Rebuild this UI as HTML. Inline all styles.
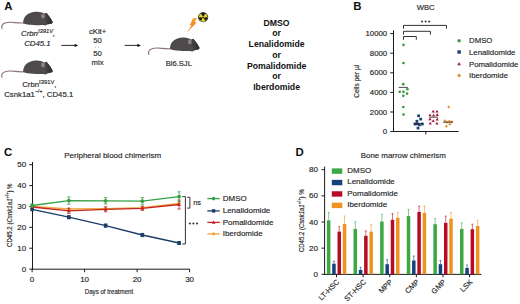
<!DOCTYPE html>
<html><head><meta charset="utf-8"><style>
html,body{margin:0;padding:0;background:#fff;}
body{width:520px;height:304px;overflow:hidden;}
svg{display:block;}
text{font-family:"Liberation Sans",sans-serif;}
text:not([font-weight="bold"]){stroke:#333;stroke-width:0.16px;}
</style></head><body>
<svg width="520" height="304" viewBox="0 0 520 304">
<rect width="520" height="304" fill="#fff"/>
<text x="4.2" y="9.9" font-size="11.4" text-anchor="start" font-weight="bold" font-style="normal" fill="#111" >A</text>
<text x="353.3" y="9.9" font-size="11.4" text-anchor="start" font-weight="bold" font-style="normal" fill="#111" >B</text>
<text x="3.9" y="155.9" font-size="11.4" text-anchor="start" font-weight="bold" font-style="normal" fill="#111" >C</text>
<text x="295.6" y="155.9" font-size="11.4" text-anchor="start" font-weight="bold" font-style="normal" fill="#111" >D</text>
<defs><linearGradient id="hg" x1="44" y1="0" x2="53" y2="0" gradientUnits="userSpaceOnUse"><stop offset="0" stop-color="#4d4849"/><stop offset="0.45" stop-color="#3c393c"/><stop offset="1" stop-color="#2c2b30"/></linearGradient></defs>
<g id="mouse">
<path d="M23.8,23.0 C19,23.4 14,22.3 10.5,22.2 C7,22.1 4.5,22.7 3,24.0 C1.7,25.2 1.5,27 1.9,28.6" fill="none" stroke="#8f7474" stroke-width="1.1" stroke-linecap="round"/>
<path d="M23.2,23.2 C23.0,20.6 23.9,17.4 26.0,15.4 C28.0,13.5 30.8,12.3 33.5,11.9 C36.5,11.5 39.5,11.6 42,12.6 L44.4,13.6 L45.9,13.1 C46.6,12.9 47.2,13.5 47.5,14.3 C49.3,16.5 51.8,19.8 52.7,22 C52.9,23.2 51.5,24 50,24 L47.5,24.6 L45.5,25.6 L43,25.1 C40,25.3 36,25.2 33,24.9 C29,24.8 25.3,24.4 23.2,23.2 Z" fill="#4e494a"/>
<path d="M45.2,13.3 C46.4,12.8 47.2,13.4 47.5,14.3 C49.3,16.5 51.8,19.8 52.7,22 C52.9,23.2 51.5,24 50,24 L46.5,23.9 C44.8,20.5 44.6,16.5 45.2,13.3 Z" fill="url(#hg)"/>
<ellipse cx="43.0" cy="16.2" rx="1.9" ry="2.4" fill="#8f8283"/>
</g>
<use href="#mouse" transform="translate(0,48.8)"/>
<use href="#mouse" transform="translate(146.8,25.8)"/>
<text x="21" y="35.8" font-size="7.8" font-style="italic" fill="#222">Crbn<tspan font-size="5.8" dy="-2.9">I391V</tspan><tspan dy="2.9">,</tspan></text>
<text x="24.2" y="45.9" font-size="7.8" text-anchor="start" font-weight="normal" font-style="italic" fill="#222" >CD45.1</text>
<text x="22.2" y="87.3" font-size="7.8" fill="#222">Crbn<tspan font-size="5.8" dy="-2.9">I391V</tspan><tspan dy="2.9">,</tspan></text>
<text x="4.2" y="96.6" font-size="7.8" fill="#222">Csnk1a1<tspan font-size="5.2" dy="-3.4">−/+</tspan><tspan dy="3.4">, CD45.1</tspan></text>
<line x1="61.3" y1="45.4" x2="75.2" y2="45.4" stroke="#111" stroke-width="0.9"/>
<path d="M78.2,45.4 L74.60000000000001,43.8 L74.60000000000001,47.0 Z" fill="#111"/>
<line x1="124.7" y1="45.4" x2="138" y2="45.4" stroke="#111" stroke-width="0.9"/>
<path d="M141,45.4 L137.4,43.8 L137.4,47.0 Z" fill="#111"/>
<text x="97.6" y="34.0" font-size="7.7" text-anchor="middle" font-weight="normal" font-style="normal" fill="#222" >cKit+</text>
<text x="97.6" y="43.1" font-size="7.7" text-anchor="middle" font-weight="normal" font-style="normal" fill="#222" >50</text>
<circle cx="95.6" cy="47.1" r="0.45" fill="#444"/><circle cx="98.6" cy="47.1" r="0.45" fill="#444"/>
<text x="97.6" y="55.9" font-size="7.7" text-anchor="middle" font-weight="normal" font-style="normal" fill="#222" >50</text>
<text x="97.6" y="64.8" font-size="7.7" text-anchor="middle" font-weight="normal" font-style="normal" fill="#222" >mix</text>
<text x="178.8" y="65.7" font-size="7.6" text-anchor="middle" font-weight="normal" font-style="normal" fill="#222" >Bl6.SJL</text>
<defs><linearGradient id="lg" x1="0" y1="0" x2="0" y2="1"><stop offset="0" stop-color="#f6a524"/><stop offset="1" stop-color="#ec6a1c"/></linearGradient></defs>
<path d="M193.1,17.9 L197.2,18.3 L194.5,22.1 L196.7,22.5 L186.5,32.8 L191.8,25.2 L189.7,25.4 Z" fill="url(#lg)"/>
<g transform="translate(203.15,17.3)"><circle r="5.05" fill="#1e1c12"/><circle r="4.35" fill="#e6d935"/><path d="M0,0 L-2.2,-3.8 A4.4,4.4 0 0 1 2.2,-3.8 Z" fill="#1e1c12" transform="rotate(0)"/><path d="M0,0 L-2.2,-3.8 A4.4,4.4 0 0 1 2.2,-3.8 Z" fill="#1e1c12" transform="rotate(120)"/><path d="M0,0 L-2.2,-3.8 A4.4,4.4 0 0 1 2.2,-3.8 Z" fill="#1e1c12" transform="rotate(240)"/><circle r="1.35" fill="#e6d935"/><circle r="0.85" fill="#1e1c12"/></g>
<text x="276.6" y="25.6" font-size="8.7" text-anchor="middle" font-weight="bold" font-style="normal" fill="#111" >DMSO</text>
<text x="276.6" y="36.33" font-size="8.7" text-anchor="middle" font-weight="bold" font-style="normal" fill="#111" >or</text>
<text x="276.6" y="47.06" font-size="8.7" text-anchor="middle" font-weight="bold" font-style="normal" fill="#111" >Lenalidomide</text>
<text x="276.6" y="57.79" font-size="8.7" text-anchor="middle" font-weight="bold" font-style="normal" fill="#111" >or</text>
<text x="276.6" y="68.52" font-size="8.7" text-anchor="middle" font-weight="bold" font-style="normal" fill="#111" >Pomalidomide</text>
<text x="276.6" y="79.25" font-size="8.7" text-anchor="middle" font-weight="bold" font-style="normal" fill="#111" >or</text>
<text x="276.6" y="89.98" font-size="8.7" text-anchor="middle" font-weight="bold" font-style="normal" fill="#111" >Iberdomide</text>
<text x="425.7" y="10.2" font-size="7.7" text-anchor="middle" font-weight="normal" font-style="normal" fill="#222" >WBC</text>
<line x1="393.5" y1="30.3" x2="393.5" y2="132.0" stroke="#1a1a1a" stroke-width="1.0"/>
<line x1="393.0" y1="131.5" x2="458.6" y2="131.5" stroke="#1a1a1a" stroke-width="1.0"/>
<line x1="425.8" y1="131.5" x2="425.8" y2="134.4" stroke="#1a1a1a" stroke-width="1.0"/>
<line x1="390.2" y1="131.60" x2="393.5" y2="131.60" stroke="#1a1a1a" stroke-width="1.0"/>
<text x="387.2" y="134.2" font-size="7.8" text-anchor="end" font-weight="normal" font-style="normal" fill="#222" >0</text>
<line x1="390.2" y1="112.00" x2="393.5" y2="112.00" stroke="#1a1a1a" stroke-width="1.0"/>
<text x="387.2" y="114.6" font-size="7.8" text-anchor="end" font-weight="normal" font-style="normal" fill="#222" >2000</text>
<line x1="390.2" y1="92.40" x2="393.5" y2="92.40" stroke="#1a1a1a" stroke-width="1.0"/>
<text x="387.2" y="95.0" font-size="7.8" text-anchor="end" font-weight="normal" font-style="normal" fill="#222" >4000</text>
<line x1="390.2" y1="72.80" x2="393.5" y2="72.80" stroke="#1a1a1a" stroke-width="1.0"/>
<text x="387.2" y="75.4" font-size="7.8" text-anchor="end" font-weight="normal" font-style="normal" fill="#222" >6000</text>
<line x1="390.2" y1="53.20" x2="393.5" y2="53.20" stroke="#1a1a1a" stroke-width="1.0"/>
<text x="387.2" y="55.8" font-size="7.8" text-anchor="end" font-weight="normal" font-style="normal" fill="#222" >8000</text>
<line x1="390.2" y1="33.60" x2="393.5" y2="33.60" stroke="#1a1a1a" stroke-width="1.0"/>
<text x="387.2" y="36.2" font-size="7.8" text-anchor="end" font-weight="normal" font-style="normal" fill="#222" >10000</text>
<text transform="translate(358.6,81.3) rotate(-90)" font-size="6.6" text-anchor="middle" fill="#222">Cells per µl</text>
<path d="M403.5,28.7 L403.5,25.4 L446.5,25.4 L446.5,28.7" fill="none" stroke="#333" stroke-width="1.0"/>
<path d="M403.5,34.6 L403.5,31.3 L430.4,31.3 L430.4,34.6" fill="none" stroke="#333" stroke-width="1.0"/>
<path d="M403.5,39.8 L403.5,36.5 L416.3,36.5 L416.3,39.8" fill="none" stroke="#333" stroke-width="1.0"/>
<g fill="#333"><circle cx="422" cy="21.6" r="1.0"/><circle cx="425.6" cy="21.6" r="1.0"/><circle cx="429.2" cy="21.6" r="1.0"/></g>
<circle cx="403.5" cy="44.9" r="1.35" fill="#3f9a48"/>
<circle cx="403.5" cy="63" r="1.35" fill="#3f9a48"/>
<circle cx="403.3" cy="84.2" r="1.35" fill="#3f9a48"/>
<circle cx="407.4" cy="89.2" r="1.35" fill="#3f9a48"/>
<circle cx="399.7" cy="91.8" r="1.35" fill="#3f9a48"/>
<circle cx="403.4" cy="91.8" r="1.35" fill="#3f9a48"/>
<circle cx="407" cy="93.6" r="1.35" fill="#3f9a48"/>
<circle cx="403.3" cy="95.8" r="1.35" fill="#3f9a48"/>
<circle cx="403.3" cy="107" r="1.35" fill="#3f9a48"/>
<circle cx="403.5" cy="114.6" r="1.35" fill="#3f9a48"/>
<line x1="398.7" y1="87.4" x2="407.8" y2="87.4" stroke="#222" stroke-width="0.8"/>
<rect x="417.25" y="114.45" width="2.7" height="2.7" fill="#1c3f72"/>
<rect x="419.35" y="117.75" width="2.7" height="2.7" fill="#1c3f72"/>
<rect x="415.55" y="119.85" width="2.7" height="2.7" fill="#1c3f72"/>
<rect x="413.75" y="122.75" width="2.7" height="2.7" fill="#1c3f72"/>
<rect x="415.85" y="122.45" width="2.7" height="2.7" fill="#1c3f72"/>
<rect x="418.05" y="123.55" width="2.7" height="2.7" fill="#1c3f72"/>
<rect x="420.95" y="122.75" width="2.7" height="2.7" fill="#1c3f72"/>
<rect x="416.65" y="126.75" width="2.7" height="2.7" fill="#1c3f72"/>
<line x1="413.5" y1="123.4" x2="423.5" y2="123.4" stroke="#222" stroke-width="0.8"/>
<path d="M433.20,109.70 L434.80,112.60 L431.60,112.60 Z" fill="#a5173b"/>
<path d="M437.00,109.70 L438.60,112.60 L435.40,112.60 Z" fill="#a5173b"/>
<path d="M430.00,113.40 L431.60,116.30 L428.40,116.30 Z" fill="#a5173b"/>
<path d="M433.60,113.70 L435.20,116.60 L432.00,116.60 Z" fill="#a5173b"/>
<path d="M437.20,113.00 L438.80,115.90 L435.60,115.90 Z" fill="#a5173b"/>
<path d="M430.00,117.30 L431.60,120.20 L428.40,120.20 Z" fill="#a5173b"/>
<path d="M437.20,117.70 L438.80,120.60 L435.60,120.60 Z" fill="#a5173b"/>
<path d="M433.20,119.20 L434.80,122.10 L431.60,122.10 Z" fill="#a5173b"/>
<path d="M430.30,121.70 L431.90,124.60 L428.70,124.60 Z" fill="#a5173b"/>
<path d="M436.90,121.70 L438.50,124.60 L435.30,124.60 Z" fill="#a5173b"/>
<line x1="429.3" y1="117.2" x2="438" y2="117.2" stroke="#222" stroke-width="0.8"/>
<path d="M448.7,105.4 L450.2,106.9 L448.7,108.4 L447.2,106.9 Z" fill="#e38d2b"/>
<path d="M444.9,119.2 L446.4,120.7 L444.9,122.2 L443.4,120.7 Z" fill="#e38d2b"/>
<path d="M446.9,120.7 L448.4,122.2 L446.9,123.7 L445.4,122.2 Z" fill="#e38d2b"/>
<path d="M449.4,119.7 L450.9,121.2 L449.4,122.7 L447.9,121.2 Z" fill="#e38d2b"/>
<path d="M451.8,120.2 L453.3,121.7 L451.8,123.2 L450.3,121.7 Z" fill="#e38d2b"/>
<path d="M446.4,124.7 L447.9,126.2 L446.4,127.7 L444.9,126.2 Z" fill="#e38d2b"/>
<path d="M449.9,122.7 L451.4,124.2 L449.9,125.7 L448.4,124.2 Z" fill="#e38d2b"/>
<line x1="443" y1="122.2" x2="453" y2="122.2" stroke="#222" stroke-width="0.8"/>
<circle cx="459.1" cy="40.7" r="1.75" fill="#3f9a48"/>
<rect x="457.4" y="50.3" width="3.4" height="3.4" fill="#1c3f72"/>
<path d="M459.1,61.9 L460.9,65.2 L457.3,65.2 Z" fill="#a5173b"/>
<path d="M459.1,73.4 L461.1,75.4 L459.1,77.4 L457.1,75.4 Z" fill="#e38d2b"/>
<text x="469.0" y="43.1" font-size="7.8" text-anchor="start" font-weight="normal" font-style="normal" fill="#222" >DMSO</text>
<text x="469.0" y="54.9" font-size="7.8" text-anchor="start" font-weight="normal" font-style="normal" fill="#222" >Lenalidomide</text>
<text x="469.0" y="66.6" font-size="7.8" text-anchor="start" font-weight="normal" font-style="normal" fill="#222" >Pomalidomide</text>
<text x="469.0" y="78.2" font-size="7.8" text-anchor="start" font-weight="normal" font-style="normal" fill="#222" >Iberdomide</text>
<text x="112.7" y="158.2" font-size="8.0" text-anchor="middle" font-weight="normal" font-style="normal" fill="#222" >Peripheral blood chimerism</text>
<line x1="32.5" y1="162.0" x2="32.5" y2="269.7" stroke="#1a1a1a" stroke-width="1.0"/>
<line x1="32.0" y1="269.2" x2="190" y2="269.2" stroke="#1a1a1a" stroke-width="1.0"/>
<line x1="29.3" y1="269.10" x2="32.5" y2="269.10" stroke="#1a1a1a" stroke-width="1.0"/>
<text x="26.2" y="271.6" font-size="8.0" text-anchor="end" font-weight="normal" font-style="normal" fill="#222" >0</text>
<line x1="29.3" y1="248.22" x2="32.5" y2="248.22" stroke="#1a1a1a" stroke-width="1.0"/>
<text x="26.2" y="250.72" font-size="8.0" text-anchor="end" font-weight="normal" font-style="normal" fill="#222" >10</text>
<line x1="29.3" y1="227.34" x2="32.5" y2="227.34" stroke="#1a1a1a" stroke-width="1.0"/>
<text x="26.2" y="229.84" font-size="8.0" text-anchor="end" font-weight="normal" font-style="normal" fill="#222" >20</text>
<line x1="29.3" y1="206.46" x2="32.5" y2="206.46" stroke="#1a1a1a" stroke-width="1.0"/>
<text x="26.2" y="208.96" font-size="8.0" text-anchor="end" font-weight="normal" font-style="normal" fill="#222" >30</text>
<line x1="29.3" y1="185.58" x2="32.5" y2="185.58" stroke="#1a1a1a" stroke-width="1.0"/>
<text x="26.2" y="188.08" font-size="8.0" text-anchor="end" font-weight="normal" font-style="normal" fill="#222" >40</text>
<line x1="29.3" y1="164.70" x2="32.5" y2="164.70" stroke="#1a1a1a" stroke-width="1.0"/>
<text x="26.2" y="167.2" font-size="8.0" text-anchor="end" font-weight="normal" font-style="normal" fill="#222" >50</text>
<line x1="32.10" y1="269.2" x2="32.10" y2="272.2" stroke="#1a1a1a" stroke-width="1.0"/>
<text x="32.1" y="282.2" font-size="8.0" text-anchor="middle" font-weight="normal" font-style="normal" fill="#222" >0</text>
<line x1="84.60" y1="269.2" x2="84.60" y2="272.2" stroke="#1a1a1a" stroke-width="1.0"/>
<text x="84.6" y="282.2" font-size="8.0" text-anchor="middle" font-weight="normal" font-style="normal" fill="#222" >10</text>
<line x1="137.10" y1="269.2" x2="137.10" y2="272.2" stroke="#1a1a1a" stroke-width="1.0"/>
<text x="137.1" y="282.2" font-size="8.0" text-anchor="middle" font-weight="normal" font-style="normal" fill="#222" >20</text>
<line x1="189.60" y1="269.2" x2="189.60" y2="272.2" stroke="#1a1a1a" stroke-width="1.0"/>
<text x="189.6" y="282.2" font-size="8.0" text-anchor="middle" font-weight="normal" font-style="normal" fill="#222" >30</text>
<text x="109" y="293.6" font-size="7.0" text-anchor="middle" fill="#222" transform="translate(109,0) scale(0.88,1) translate(-109,0)">Days of treatment</text>
<text transform="translate(12.0,215.2) rotate(-90)" font-size="7.2" textLength="63.5" lengthAdjust="spacingAndGlyphs" text-anchor="middle" fill="#222">CD45.2 (<tspan font-style="italic">Csnk1a1</tspan><tspan font-size="4.8" dy="-2.6">+/+</tspan><tspan dy="2.6">) %</tspan></text>
<polyline points="32.10,206.3 68.85,209.0 105.60,208.6 142.35,207.6 179.10,203.3" fill="none" stroke="#f0a33a" stroke-width="1.3"/>
<path d="M32.10,204.30 L34.10,206.30 L32.10,208.30 L30.10,206.30 Z" fill="#f0a33a"/>
<path d="M68.85,207.00 L70.85,209.00 L68.85,211.00 L66.85,209.00 Z" fill="#f0a33a"/>
<path d="M105.60,206.60 L107.60,208.60 L105.60,210.60 L103.60,208.60 Z" fill="#f0a33a"/>
<path d="M142.35,205.60 L144.35,207.60 L142.35,209.60 L140.35,207.60 Z" fill="#f0a33a"/>
<path d="M179.10,201.30 L181.10,203.30 L179.10,205.30 L177.10,203.30 Z" fill="#f0a33a"/>
<polyline points="32.10,207.0 68.85,210.8 105.60,209.3 142.35,208.4 179.10,204.5" fill="none" stroke="#c4251f" stroke-width="1.3"/>
<path d="M32.10,205.00 L34.00,208.40 L30.20,208.40 Z" fill="#c4251f"/>
<path d="M68.85,208.20 L68.85,213.40 M67.15,208.20 L70.55,208.20 M67.15,213.40 L70.55,213.40" stroke="#c4251f" stroke-width="0.8" fill="none"/>
<path d="M68.85,208.80 L70.75,212.20 L66.95,212.20 Z" fill="#c4251f"/>
<path d="M105.60,206.80 L105.60,211.80 M103.90,206.80 L107.30,206.80 M103.90,211.80 L107.30,211.80" stroke="#c4251f" stroke-width="0.8" fill="none"/>
<path d="M105.60,207.30 L107.50,210.70 L103.70,210.70 Z" fill="#c4251f"/>
<path d="M142.35,206.40 L142.35,210.40 M140.65,206.40 L144.05,206.40 M140.65,210.40 L144.05,210.40" stroke="#c4251f" stroke-width="0.8" fill="none"/>
<path d="M142.35,206.40 L144.25,209.80 L140.45,209.80 Z" fill="#c4251f"/>
<path d="M179.10,200.00 L179.10,209.00 M177.40,200.00 L180.80,200.00 M177.40,209.00 L180.80,209.00" stroke="#c4251f" stroke-width="0.8" fill="none"/>
<path d="M179.10,202.50 L181.00,205.90 L177.20,205.90 Z" fill="#c4251f"/>
<polyline points="32.10,209.4 68.85,217.2 105.60,225.6 142.35,235.0 179.10,243.0" fill="none" stroke="#1b3c68" stroke-width="1.3"/>
<rect x="30.30" y="207.60" width="3.6" height="3.6" fill="#1b3c68"/>
<path d="M68.85,215.60 L68.85,218.80 M67.15,215.60 L70.55,215.60 M67.15,218.80 L70.55,218.80" stroke="#1b3c68" stroke-width="0.8" fill="none"/>
<rect x="67.05" y="215.40" width="3.6" height="3.6" fill="#1b3c68"/>
<path d="M105.60,224.00 L105.60,227.20 M103.90,224.00 L107.30,224.00 M103.90,227.20 L107.30,227.20" stroke="#1b3c68" stroke-width="0.8" fill="none"/>
<rect x="103.80" y="223.80" width="3.6" height="3.6" fill="#1b3c68"/>
<path d="M142.35,233.40 L142.35,236.60 M140.65,233.40 L144.05,233.40 M140.65,236.60 L144.05,236.60" stroke="#1b3c68" stroke-width="0.8" fill="none"/>
<rect x="140.55" y="233.20" width="3.6" height="3.6" fill="#1b3c68"/>
<path d="M179.10,241.50 L179.10,244.50 M177.40,241.50 L180.80,241.50 M177.40,244.50 L180.80,244.50" stroke="#1b3c68" stroke-width="0.8" fill="none"/>
<rect x="177.30" y="241.20" width="3.6" height="3.6" fill="#1b3c68"/>
<polyline points="32.10,205.5 68.85,200.6 105.60,200.8 142.35,201.2 179.10,196.6" fill="none" stroke="#36a046" stroke-width="1.3"/>
<path d="M32.10,204.00 L32.10,207.00 M30.40,204.00 L33.80,204.00 M30.40,207.00 L33.80,207.00" stroke="#36a046" stroke-width="0.8" fill="none"/>
<circle cx="32.10" cy="205.5" r="1.9" fill="#36a046"/>
<path d="M68.85,197.00 L68.85,204.20 M67.15,197.00 L70.55,197.00 M67.15,204.20 L70.55,204.20" stroke="#36a046" stroke-width="0.8" fill="none"/>
<circle cx="68.85" cy="200.6" r="1.9" fill="#36a046"/>
<path d="M105.60,197.60 L105.60,204.00 M103.90,197.60 L107.30,197.60 M103.90,204.00 L107.30,204.00" stroke="#36a046" stroke-width="0.8" fill="none"/>
<circle cx="105.60" cy="200.8" r="1.9" fill="#36a046"/>
<path d="M142.35,197.60 L142.35,204.80 M140.65,197.60 L144.05,197.60 M140.65,204.80 L144.05,204.80" stroke="#36a046" stroke-width="0.8" fill="none"/>
<circle cx="142.35" cy="201.2" r="1.9" fill="#36a046"/>
<path d="M179.10,191.80 L179.10,201.40 M177.40,191.80 L180.80,191.80 M177.40,201.40 L180.80,201.40" stroke="#36a046" stroke-width="0.8" fill="none"/>
<circle cx="179.10" cy="196.6" r="1.9" fill="#36a046"/>
<path d="M182.2,196.7 L185.4,196.7 L185.4,244.0 L182.2,244.0" fill="none" stroke="#333" stroke-width="1.0"/>
<path d="M187.2,197.3 L189.9,197.3 L189.9,208.1 L187.2,208.1" fill="none" stroke="#333" stroke-width="1.0"/>
<text x="193.2" y="204.9" font-size="7.4" text-anchor="start" font-weight="normal" font-style="normal" fill="#222" >ns</text>
<g fill="#333"><circle cx="189.8" cy="223.5" r="1.05"/><circle cx="193.4" cy="223.5" r="1.05"/><circle cx="197.0" cy="223.5" r="1.05"/></g>
<line x1="207.3" y1="198.6" x2="219.7" y2="198.6" stroke="#36a046" stroke-width="1.3"/>
<circle cx="213.6" cy="198.6" r="1.8" fill="#36a046"/>
<text x="222.7" y="200.8" font-size="8.0" text-anchor="start" font-weight="normal" font-style="normal" fill="#222" >DMSO</text>
<line x1="207.3" y1="210.9" x2="219.7" y2="210.9" stroke="#1b3c68" stroke-width="1.3"/>
<rect x="211.9" y="209.20000000000002" width="3.4" height="3.4" fill="#1b3c68"/>
<text x="222.7" y="213.1" font-size="8.0" text-anchor="start" font-weight="normal" font-style="normal" fill="#222" >Lenalidomide</text>
<line x1="207.3" y1="222.4" x2="219.7" y2="222.4" stroke="#c4251f" stroke-width="1.3"/>
<path d="M213.6,220.5 L215.4,223.70000000000002 L211.79999999999998,223.70000000000002 Z" fill="#c4251f"/>
<text x="222.7" y="224.6" font-size="8.0" text-anchor="start" font-weight="normal" font-style="normal" fill="#222" >Pomalidomide</text>
<line x1="207.3" y1="233.9" x2="219.7" y2="233.9" stroke="#f0a33a" stroke-width="1.3"/>
<path d="M213.6,232.0 L215.5,233.9 L213.6,235.8 L211.7,233.9 Z" fill="#f0a33a"/>
<text x="222.7" y="236.1" font-size="8.0" text-anchor="start" font-weight="normal" font-style="normal" fill="#222" >Iberdomide</text>
<text x="403.3" y="158.1" font-size="7.9" text-anchor="middle" font-weight="normal" font-style="normal" fill="#222" >Bone marrow chimerism</text>
<line x1="324.6" y1="166.6" x2="324.6" y2="274.9" stroke="#1a1a1a" stroke-width="1.0"/>
<line x1="324.1" y1="274.4" x2="481.4" y2="274.4" stroke="#1a1a1a" stroke-width="1.0"/>
<line x1="321.5" y1="274.30" x2="324.6" y2="274.30" stroke="#1a1a1a" stroke-width="1.0"/>
<text x="318.0" y="276.9" font-size="8.0" text-anchor="end" font-weight="normal" font-style="normal" fill="#222" >0</text>
<line x1="321.5" y1="248.15" x2="324.6" y2="248.15" stroke="#1a1a1a" stroke-width="1.0"/>
<text x="318.0" y="250.75" font-size="8.0" text-anchor="end" font-weight="normal" font-style="normal" fill="#222" >20</text>
<line x1="321.5" y1="222.00" x2="324.6" y2="222.00" stroke="#1a1a1a" stroke-width="1.0"/>
<text x="318.0" y="224.6" font-size="8.0" text-anchor="end" font-weight="normal" font-style="normal" fill="#222" >40</text>
<line x1="321.5" y1="195.85" x2="324.6" y2="195.85" stroke="#1a1a1a" stroke-width="1.0"/>
<text x="318.0" y="198.45" font-size="8.0" text-anchor="end" font-weight="normal" font-style="normal" fill="#222" >60</text>
<line x1="321.5" y1="169.70" x2="324.6" y2="169.70" stroke="#1a1a1a" stroke-width="1.0"/>
<text x="318.0" y="172.3" font-size="8.0" text-anchor="end" font-weight="normal" font-style="normal" fill="#222" >80</text>
<text transform="translate(304.0,220.8) rotate(-90)" font-size="7.2" textLength="62.6" lengthAdjust="spacingAndGlyphs" text-anchor="middle" fill="#222">CD45.2 (<tspan font-style="italic">Csnk1a1</tspan><tspan font-size="4.8" dy="-2.6">+/+</tspan><tspan dy="2.6">) %</tspan></text>
<rect x="326.90" y="220.30" width="3.5" height="54.00" fill="#3ba844"/>
<path d="M328.65,220.30 L328.65,212.40 M327.65,212.40 L329.65,212.40" stroke="#3ba844" stroke-width="0.6" fill="none"/>
<rect x="332.20" y="263.70" width="3.5" height="10.60" fill="#15427a"/>
<path d="M333.95,263.70 L333.95,261.20 M332.95,261.20 L334.95,261.20" stroke="#15427a" stroke-width="0.6" fill="none"/>
<rect x="337.50" y="231.60" width="3.5" height="42.70" fill="#b60b27"/>
<path d="M339.25,231.60 L339.25,226.70 M338.25,226.70 L340.25,226.70" stroke="#b60b27" stroke-width="0.6" fill="none"/>
<rect x="342.80" y="224.00" width="3.5" height="50.30" fill="#ee9224"/>
<path d="M344.55,224.00 L344.55,216.10 M343.55,216.10 L345.55,216.10" stroke="#ee9224" stroke-width="0.6" fill="none"/>
<line x1="336.50" y1="274.4" x2="336.50" y2="277.2" stroke="#1a1a1a" stroke-width="1.0"/>
<text transform="translate(339.80,282.5) rotate(-45)" font-size="7.4" text-anchor="end" fill="#222">LT-HSC</text>
<rect x="353.52" y="228.90" width="3.5" height="45.40" fill="#3ba844"/>
<path d="M355.27,228.90 L355.27,221.80 M354.27,221.80 L356.27,221.80" stroke="#3ba844" stroke-width="0.6" fill="none"/>
<rect x="358.82" y="269.90" width="3.5" height="4.40" fill="#15427a"/>
<path d="M360.57,269.90 L360.57,267.30 M359.57,267.30 L361.57,267.30" stroke="#15427a" stroke-width="0.6" fill="none"/>
<rect x="364.12" y="235.80" width="3.5" height="38.50" fill="#b60b27"/>
<path d="M365.87,235.80 L365.87,230.90 M364.87,230.90 L366.87,230.90" stroke="#b60b27" stroke-width="0.6" fill="none"/>
<rect x="369.42" y="231.60" width="3.5" height="42.70" fill="#ee9224"/>
<path d="M371.17,231.60 L371.17,224.70 M370.17,224.70 L372.17,224.70" stroke="#ee9224" stroke-width="0.6" fill="none"/>
<line x1="363.12" y1="274.4" x2="363.12" y2="277.2" stroke="#1a1a1a" stroke-width="1.0"/>
<text transform="translate(366.42,282.5) rotate(-45)" font-size="7.4" text-anchor="end" fill="#222">ST-HSC</text>
<rect x="380.14" y="221.50" width="3.5" height="52.80" fill="#3ba844"/>
<path d="M381.89,221.50 L381.89,214.40 M380.89,214.40 L382.89,214.40" stroke="#3ba844" stroke-width="0.6" fill="none"/>
<rect x="385.44" y="264.20" width="3.5" height="10.10" fill="#15427a"/>
<path d="M387.19,264.20 L387.19,259.70 M386.19,259.70 L388.19,259.70" stroke="#15427a" stroke-width="0.6" fill="none"/>
<rect x="390.74" y="219.80" width="3.5" height="54.50" fill="#b60b27"/>
<path d="M392.49,219.80 L392.49,213.60 M391.49,213.60 L393.49,213.60" stroke="#b60b27" stroke-width="0.6" fill="none"/>
<rect x="396.04" y="217.80" width="3.5" height="56.50" fill="#ee9224"/>
<path d="M397.79,217.80 L397.79,212.40 M396.79,212.40 L398.79,212.40" stroke="#ee9224" stroke-width="0.6" fill="none"/>
<line x1="389.74" y1="274.4" x2="389.74" y2="277.2" stroke="#1a1a1a" stroke-width="1.0"/>
<text transform="translate(393.04,282.5) rotate(-45)" font-size="7.4" text-anchor="end" fill="#222">MPP</text>
<rect x="406.76" y="216.10" width="3.5" height="58.20" fill="#3ba844"/>
<path d="M408.51,216.10 L408.51,209.40 M407.51,209.40 L409.51,209.40" stroke="#3ba844" stroke-width="0.6" fill="none"/>
<rect x="412.06" y="260.50" width="3.5" height="13.80" fill="#15427a"/>
<path d="M413.81,260.50 L413.81,256.00 M412.81,256.00 L414.81,256.00" stroke="#15427a" stroke-width="0.6" fill="none"/>
<rect x="417.36" y="211.90" width="3.5" height="62.40" fill="#b60b27"/>
<path d="M419.11,211.90 L419.11,206.20 M418.11,206.20 L420.11,206.20" stroke="#b60b27" stroke-width="0.6" fill="none"/>
<rect x="422.66" y="212.90" width="3.5" height="61.40" fill="#ee9224"/>
<path d="M424.41,212.90 L424.41,206.00 M423.41,206.00 L425.41,206.00" stroke="#ee9224" stroke-width="0.6" fill="none"/>
<line x1="416.36" y1="274.4" x2="416.36" y2="277.2" stroke="#1a1a1a" stroke-width="1.0"/>
<text transform="translate(419.66,282.5) rotate(-45)" font-size="7.4" text-anchor="end" fill="#222">CMP</text>
<rect x="433.38" y="224.20" width="3.5" height="50.10" fill="#3ba844"/>
<path d="M435.13,224.20 L435.13,218.60 M434.13,218.60 L436.13,218.60" stroke="#3ba844" stroke-width="0.6" fill="none"/>
<rect x="438.68" y="264.20" width="3.5" height="10.10" fill="#15427a"/>
<path d="M440.43,264.20 L440.43,260.50 M439.43,260.50 L441.43,260.50" stroke="#15427a" stroke-width="0.6" fill="none"/>
<rect x="443.98" y="222.80" width="3.5" height="51.50" fill="#b60b27"/>
<path d="M445.73,222.80 L445.73,216.10 M444.73,216.10 L446.73,216.10" stroke="#b60b27" stroke-width="0.6" fill="none"/>
<rect x="449.28" y="218.60" width="3.5" height="55.70" fill="#ee9224"/>
<path d="M451.03,218.60 L451.03,212.40 M450.03,212.40 L452.03,212.40" stroke="#ee9224" stroke-width="0.6" fill="none"/>
<line x1="442.98" y1="274.4" x2="442.98" y2="277.2" stroke="#1a1a1a" stroke-width="1.0"/>
<text transform="translate(446.28,282.5) rotate(-45)" font-size="7.4" text-anchor="end" fill="#222">GMP</text>
<rect x="460.00" y="228.90" width="3.5" height="45.40" fill="#3ba844"/>
<path d="M461.75,228.90 L461.75,222.80 M460.75,222.80 L462.75,222.80" stroke="#3ba844" stroke-width="0.6" fill="none"/>
<rect x="465.30" y="267.90" width="3.5" height="6.40" fill="#15427a"/>
<path d="M467.05,267.90 L467.05,265.00 M466.05,265.00 L468.05,265.00" stroke="#15427a" stroke-width="0.6" fill="none"/>
<rect x="470.60" y="229.20" width="3.5" height="45.10" fill="#b60b27"/>
<path d="M472.35,229.20 L472.35,224.20 M471.35,224.20 L473.35,224.20" stroke="#b60b27" stroke-width="0.6" fill="none"/>
<rect x="475.90" y="226.00" width="3.5" height="48.30" fill="#ee9224"/>
<path d="M477.65,226.00 L477.65,220.30 M476.65,220.30 L478.65,220.30" stroke="#ee9224" stroke-width="0.6" fill="none"/>
<line x1="469.60" y1="274.4" x2="469.60" y2="277.2" stroke="#1a1a1a" stroke-width="1.0"/>
<text transform="translate(472.90,282.5) rotate(-45)" font-size="7.4" text-anchor="end" fill="#222">LSK</text>
<rect x="331.8" y="168.4" width="10.5" height="5.4" fill="#3ba844"/>
<text x="347.2" y="173.0" font-size="8.0" text-anchor="start" font-weight="normal" font-style="normal" fill="#222" >DMSO</text>
<rect x="331.8" y="179.85000000000002" width="10.5" height="5.4" fill="#15427a"/>
<text x="347.2" y="184.45" font-size="8.0" text-anchor="start" font-weight="normal" font-style="normal" fill="#222" >Lenalidomide</text>
<rect x="331.8" y="191.25" width="10.5" height="5.4" fill="#b60b27"/>
<text x="347.2" y="195.85" font-size="8.0" text-anchor="start" font-weight="normal" font-style="normal" fill="#222" >Pomalidomide</text>
<rect x="331.8" y="202.70000000000002" width="10.5" height="5.4" fill="#ee9224"/>
<text x="347.2" y="207.3" font-size="8.0" text-anchor="start" font-weight="normal" font-style="normal" fill="#222" >Iberdomide</text>
</svg>
</body></html>
